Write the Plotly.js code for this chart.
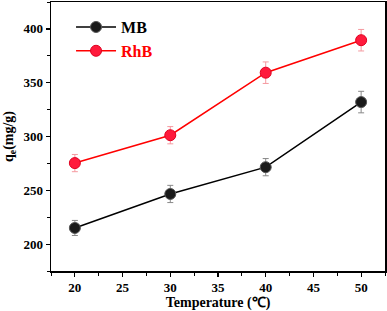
<!DOCTYPE html>
<html><head><meta charset="utf-8">
<script src="https://cdn.plot.ly/plotly-3.0.1.min.js"></script>
<style>body{margin:0;background:#fff}#c{width:387px;height:311px}</style>
</head><body><div id="c"></div>
<script>
const temps = [20, 30, 40, 50];
const mbValues = [215, 246.6, 271.5, 332];
const mbErrors = [7, 8, 8, 10];
const rhbValues = [275.3, 301.2, 359.3, 389.5];
const rhbErrors = [8, 8, 10, 10];
const xTickStart = 20, xTickStep = 5, xMinorStep = 2.5;
const yTickStart = 200, yTickStep = 50, yMinorStep = 25;

const fam = 'Liberation Serif, Times New Roman, serif';
const traces = [
  {x: temps, y: mbValues, name: '<b>MB</b>', mode: 'lines+markers', type: 'scatter',
   line: {color: '#000', width: 1.5},
   marker: {size: 11, color: '#1a1a1a', line: {color: '#555', width: 1}},
   error_y: {type: 'data', array: mbErrors, visible: true, color: '#888', thickness: 1, width: 3}},
  {x: temps, y: rhbValues, name: '<b>RhB</b>', mode: 'lines+markers', type: 'scatter',
   line: {color: '#ff0000', width: 1.5},
   marker: {size: 11, color: '#ff1a3c', line: {color: '#e00020', width: 1}},
   error_y: {type: 'data', array: rhbErrors, visible: true, color: '#f59aa0', thickness: 1, width: 3}}
];
const layout = {
  width: 387, height: 311,
  margin: {l: 51, r: 2, t: 2, b: 40},
  paper_bgcolor: '#fff', plot_bgcolor: '#fff',
  font: {family: fam, size: 13, color: '#000'},
  showlegend: true,
  legend: {x: 0.06, y: 0.97, xanchor: 'left', yanchor: 'top', bgcolor: 'rgba(0,0,0,0)',
    font: {family: fam, size: 16}, tracegroupgap: 0, itemwidth: 40},
  xaxis: {range: [17.5, 52.5], tickmode: 'linear', tick0: xTickStart, dtick: xTickStep,
    tickprefix: '<b>', ticksuffix: '</b>', automargin: false,
    ticks: 'outside', ticklen: 4, tickwidth: 1.2, tickcolor: '#000',
    showline: true, mirror: true, linecolor: '#000', linewidth: 1.5, showgrid: false, zeroline: false,
    tickfont: {family: fam, size: 13, color: '#000', weight: 'bold'},
    minor: {tick0: 0, dtick: xMinorStep, ticks: 'outside', ticklen: 3, tickcolor: '#000', tickwidth: 1, showgrid: false},
    title: {text: '<b>Temperature (℃)</b>', font: {family: fam, size: 14}, standoff: 1}},
  yaxis: {range: [175, 425], tickmode: 'linear', tick0: yTickStart, dtick: yTickStep,
    tickprefix: '<b>', ticksuffix: '</b>', automargin: false,
    ticks: 'outside', ticklen: 4, tickwidth: 1.2, tickcolor: '#000',
    showline: true, mirror: true, linecolor: '#000', linewidth: 1.5, showgrid: false, zeroline: false,
    tickfont: {family: fam, size: 13, color: '#000', weight: 'bold'},
    minor: {tick0: 0, dtick: yMinorStep, ticks: 'outside', ticklen: 3, tickcolor: '#000', tickwidth: 1, showgrid: false},
    title: {text: '<b>q<sub>e</sub>(mg/g)</b>', font: {family: fam, size: 14}, standoff: 6}}
};
Plotly.newPlot('c', traces, layout, {displayModeBar: false, staticPlot: true}).then(() => {
  document.querySelectorAll('.legendtext').forEach((t, i) => { if (i === 1) t.style.fill = '#ff0000'; });
});
</script></body></html>
